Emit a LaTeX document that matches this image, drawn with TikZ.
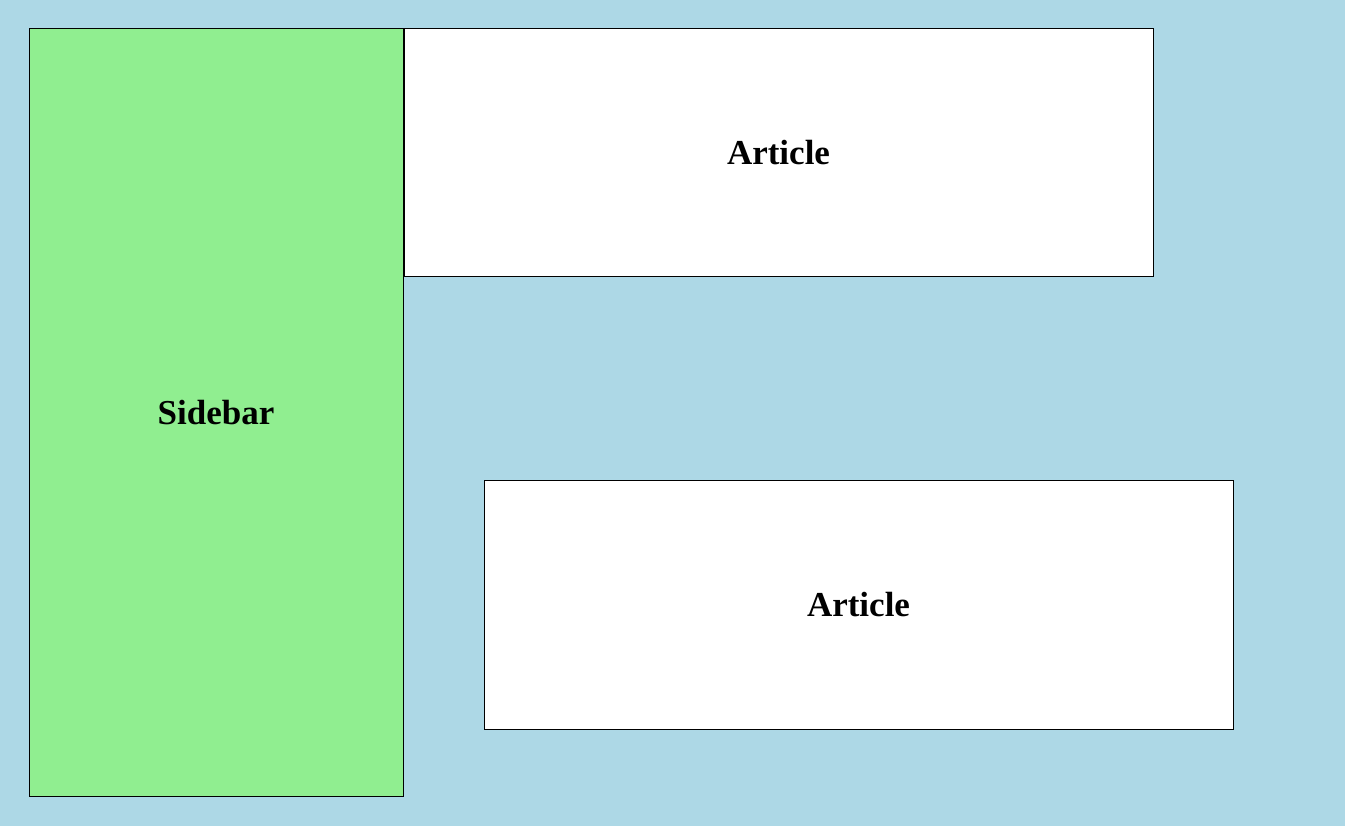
\documentclass[tikz,border=0pt]{standalone}
\usepackage{fontspec}
\setmainfont{Liberation Serif}
\definecolor{bgblue}{HTML}{ADD8E6}
\definecolor{sidegreen}{HTML}{90EE90}
\begin{document}
\begin{tikzpicture}[x=1pt,y=-1pt,
  panel/.style={draw=black,line width=1pt,inner sep=0pt,font=\fontsize{35}{42}\selectfont\bfseries}]
\fill[bgblue] (0,0) rectangle (1345,826);
\useasboundingbox (0,0) rectangle (1345,826);
\node[panel,fill=sidegreen,minimum width=374pt,minimum height=767pt] (sidebar) at (216,412.5) {Sidebar};
\node[panel,fill=white,minimum width=749pt,minimum height=248pt] (article1) at (778.5,153) {Article};
\node[panel,fill=white,minimum width=749pt,minimum height=249pt] (article2) at (858.5,604.5) {Article};
\end{tikzpicture}
\end{document}
